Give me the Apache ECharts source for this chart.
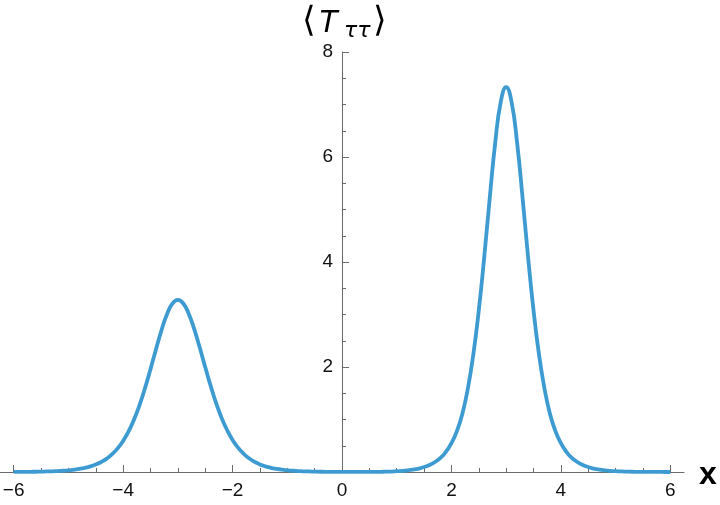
<!DOCTYPE html>
<html>
<head>
<meta charset="utf-8">
<script src="https://cdn.jsdelivr.net/npm/echarts@6/dist/echarts.min.js"></script>
<style>
  html, body { margin: 0; padding: 0; background: #fff; }
  #myChart { width: 720px; height: 505px; }
</style>
</head>
<body>
<div id="myChart"></div>
<script>
//曲线采样点 x
var xValues = [
    -6.0, -5.9, -5.8, -5.7, -5.6, -5.5, -5.4, -5.3, -5.2, -5.1,
    -5.0, -4.9, -4.8, -4.7, -4.6, -4.5, -4.4, -4.3, -4.2, -4.1,
    -4.0, -3.9, -3.8, -3.7, -3.6, -3.5, -3.4, -3.3, -3.2, -3.1,
    -3.0, -2.9, -2.8, -2.7, -2.6, -2.5, -2.4, -2.3, -2.2, -2.1,
    -2.0, -1.9, -1.8, -1.7, -1.6, -1.5, -1.4, -1.3, -1.2, -1.1,
    -1.0, -0.9, -0.8, -0.7, -0.6, -0.5, -0.4, -0.3, -0.2, -0.1,
    0.0, 0.1, 0.2, 0.3, 0.4, 0.5, 0.6, 0.7, 0.8, 0.9,
    1.0, 1.1, 1.2, 1.3, 1.4, 1.5, 1.6, 1.7, 1.8, 1.9,
    2.0, 2.1, 2.2, 2.3, 2.4, 2.5, 2.6, 2.7, 2.8, 2.9,
    3.0, 3.1, 3.2, 3.3, 3.4, 3.5, 3.6, 3.7, 3.8, 3.9,
    4.0, 4.1, 4.2, 4.3, 4.4, 4.5, 4.6, 4.7, 4.8, 4.9,
    5.0, 5.1, 5.2, 5.3, 5.4, 5.5, 5.6, 5.7, 5.8, 5.9,
    6.0
];

//曲线数值 <T_ττ>
var tValues = [
    0.002, 0.002, 0.003, 0.004, 0.005, 0.007, 0.010, 0.013, 0.018, 0.024,
    0.032, 0.044, 0.059, 0.079, 0.106, 0.143, 0.191, 0.255, 0.340, 0.450,
    0.593, 0.774, 1.000, 1.275, 1.597, 1.957, 2.334, 2.696, 3.000, 3.207,
    3.280, 3.210, 3.010, 2.720, 2.370, 2.000, 1.640, 1.310, 1.030, 0.800,
    0.610, 0.465, 0.350, 0.260, 0.195, 0.145, 0.108, 0.080, 0.060, 0.044,
    0.033, 0.024, 0.018, 0.013, 0.010, 0.007, 0.005, 0.004, 0.003, 0.002,
    0.002, 0.002, 0.002, 0.002, 0.002, 0.002, 0.003, 0.004, 0.006, 0.009,
    0.015, 0.022, 0.032, 0.046, 0.066, 0.094, 0.134, 0.190, 0.270, 0.385,
    0.550, 0.780, 1.110, 1.590, 2.240, 3.080, 4.100, 5.220, 6.270, 7.040,
    7.330, 7.040, 6.270, 5.220, 4.100, 3.080, 2.240, 1.590, 1.110, 0.780,
    0.550, 0.385, 0.270, 0.190, 0.134, 0.094, 0.066, 0.046, 0.032, 0.022,
    0.015, 0.010, 0.007, 0.005, 0.003, 0.002, 0.001, 0.001, 0.001, 0.000,
    0.000
];

//刻度
var xMajorTicks = [-6, -4, -2, 0, 2, 4, 6];
var xMinorTicks = [-5.5, -5, -4.5, -3.5, -3, -2.5, -1.5, -1, -0.5,
    0.5, 1, 1.5, 2.5, 3, 3.5, 4.5, 5, 5.5];
var yTickLabels = [2, 4, 6, 8];

var axisColor = '#6b6b6b';
var lineColor = '#3e9bd2';
var labelFont = 'Liberation Sans, Arial, sans-serif';
var xMin = -6.25, xMax = 6.25;
var gridLeft = 0, gridRight = 36;

function fmtNum(v) {
    return v < 0 ? '\u2212' + (-v) : String(v);
}

var seriesData = xValues.map(function (x, i) {
    return [x, tValues[i]];
});

//y轴放在 x=0 处（用 offset 往里挪）
var zeroOffset = -(720 - gridLeft - gridRight) * (0 - xMin) / (xMax - xMin);

var option = {
    animation: false,
    grid: {
        left: gridLeft,
        right: gridRight,
        top: 52,
        bottom: 33,
        containLabel: false,
        outerBoundsMode: 'none'
    },
    xAxis: [{
        type: 'value',
        min: xMin,
        max: xMax,
        axisLine: {
            onZero: false,
            lineStyle: {color: axisColor, width: 1}
        },
        axisTick: {
            show: true,
            inside: true,
            length: 7,
            customValues: xMajorTicks,
            lineStyle: {color: axisColor}
        },
        axisLabel: {
            customValues: xMajorTicks,
            formatter: fmtNum,
            margin: 9,
            fontSize: 19,
            fontFamily: labelFont,
            color: '#111'
        },
        splitLine: {show: false}
    }, {
        type: 'value',
        min: xMin,
        max: xMax,
        position: 'bottom',
        offset: 0,
        axisLine: {show: false, onZero: false},
        axisTick: {
            show: true,
            inside: true,
            length: 4,
            customValues: xMinorTicks,
            lineStyle: {color: axisColor}
        },
        axisLabel: {show: false},
        splitLine: {show: false}
    }],
    yAxis: {
        type: 'value',
        min: 0,
        max: 8,
        interval: 2,
        position: 'left',
        offset: zeroOffset,
        axisLine: {
            show: true,
            onZero: false,
            lineStyle: {color: axisColor, width: 1}
        },
        axisTick: {
            show: true,
            inside: true,
            length: 7,
            lineStyle: {color: axisColor}
        },
        minorTick: {
            show: true,
            splitNumber: 4,
            length: 4,
            lineStyle: {color: axisColor}
        },
        axisLabel: {
            show: true,
            customValues: yTickLabels,
            margin: 9,
            fontSize: 19,
            fontFamily: labelFont,
            color: '#111'
        },
        splitLine: {show: false}
    },
    graphic: [
        {type: 'text', left: 302, top: 4, style: {text: '\u27e8', fontSize: 35, fontFamily: 'DejaVu Sans', fill: '#000'}},
        {type: 'text', left: 318, top: 7, style: {text: 'T', fontSize: 32, fontStyle: 'italic', fontFamily: labelFont, fill: '#000'}},
        {type: 'text', left: 344, top: 20, style: {text: '\u03c4\u03c4', fontSize: 22, fontStyle: 'italic', fontFamily: 'DejaVu Sans', fill: '#000'}},
        {type: 'text', left: 373, top: 4, style: {text: '\u27e9', fontSize: 35, fontFamily: 'DejaVu Sans', fill: '#000'}},
        {type: 'text', left: 699, top: 459, style: {text: 'x', fontSize: 32, fontWeight: 'bold', fontFamily: labelFont, fill: '#000'}}
    ],
    series: [{
        type: 'line',
        xAxisIndex: 0,
        data: seriesData,
        smooth: true,
        showSymbol: false,
        symbol: 'none',
        lineStyle: {color: lineColor, width: 3.8},
        z: 5
    }]
};

var myChart = echarts.init(document.getElementById('myChart'));
myChart.setOption(option);
</script>
</body>
</html>
